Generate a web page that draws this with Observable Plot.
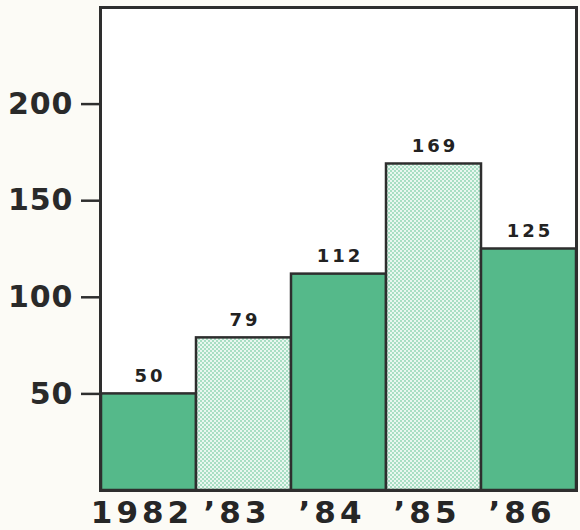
<!DOCTYPE html>
<html>
<head>
<meta charset="utf-8">
<script src="https://cdn.jsdelivr.net/npm/d3@7"></script>
<script src="https://cdn.jsdelivr.net/npm/@observablehq/plot@0.6"></script>
<style>
  html, body { margin: 0; padding: 0; background: #fcfbf6; }
  #chart svg { display: block; }
</style>
</head>
<body>
<div id="chart"></div>
<script>
// Yearly totals, 1982–1986
const years = ["1982", "\u201983", "\u201984", "\u201985", "\u201986"];
const values = [50, 79, 112, 169, 125];
const yTicks = [50, 100, 150, 200];

const data = years.map((year, i) => ({year, value: values[i]}));

const solidGreen = "#55b98a";
const ink = "#2e2e2e";

const chart = Plot.plot({
  width: 580,
  height: 530,
  marginLeft: 100,
  marginRight: 4,
  marginTop: 7,
  marginBottom: 40,
  style: {background: "#fcfbf6", fontFamily: "'DejaVu Sans', sans-serif"},
  x: {domain: years, padding: 0},
  y: {domain: [0, 250]},
  marks: [
    Plot.frame({fill: "white"}),
    // alternating solid and halftone-screened bars
    Plot.barY(data, {
      x: "year",
      y: "value",
      fill: (d, i) => (i % 2 ? "url(#halftone)" : solidGreen),
      stroke: ink,
      strokeWidth: 2.5
    }),
    Plot.text(data, {
      x: "year",
      y: "value",
      text: d => String(d.value),
      lineAnchor: "bottom",
      dy: -12,
      dx: 1,
      fontSize: 18,
      fontWeight: "bold",
      fill: "#222"
    }),
    Plot.axisY({
      ticks: yTicks,
      tickSize: 19,
      tickPadding: 8,
      strokeWidth: 2.5,
      stroke: ink,
      fontSize: 30,
      fontWeight: "bold",
      fill: "#2a2a2a",
      label: null
    }),
    Plot.axisX({
      tickSize: 0,
      tickPadding: 10,
      fontSize: 31,
      fontWeight: "bold",
      fill: "#262626",
      dx: -7,
      label: null
    }),
    Plot.frame({stroke: ink, strokeWidth: 3})
  ]
});

// halftone screen for the lighter bars
const svg = d3.select(chart);
const defs = svg.insert("defs", ":first-child");
const pat = defs.append("pattern")
  .attr("id", "halftone")
  .attr("patternUnits", "userSpaceOnUse")
  .attr("width", 4)
  .attr("height", 4);
pat.append("rect").attr("width", 4).attr("height", 4).attr("fill", "#e9f7f0");
pat.append("rect").attr("x", 0).attr("y", 0).attr("width", 2).attr("height", 2).attr("fill", "#a8dec3");
pat.append("rect").attr("x", 2).attr("y", 2).attr("width", 2).attr("height", 2).attr("fill", "#a8dec3");

// letter spacing on the type
svg.selectAll("g[aria-label='text'] text").attr("letter-spacing", 3);
svg.selectAll("g[aria-label='y-axis tick label'] text").attr("letter-spacing", 1);
svg.selectAll("g[aria-label='x-axis tick label'] text").attr("letter-spacing", 4);

document.getElementById("chart").append(chart);
</script>
</body>
</html>
